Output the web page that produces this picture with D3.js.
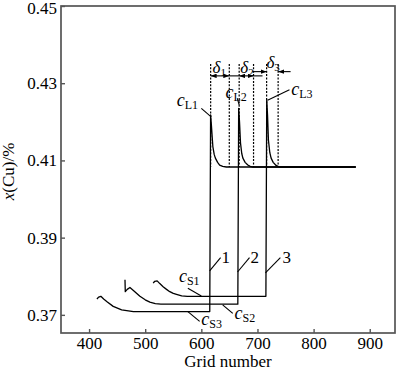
<!DOCTYPE html>
<html lang="en">
<head>
<meta charset="UTF-8">
<title>x(Cu) vs grid number</title>
<script src="https://d3js.org/d3.v7.min.js"></script>
<style>
    body { margin: 0; background: #fff; }
    svg { display: block; }
    text { font-family: "Liberation Serif", "Times New Roman", serif; }
    .axis text { font-size: 17px; fill: #000; }
    .axis line { stroke: #555; stroke-width: 1.4px; }
    .frame { fill: none; stroke: #555; stroke-width: 1.7px; }
    .curve { fill: none; stroke: #000; stroke-width: 1.3px; stroke-linejoin: round; }
    .dotted { stroke: #000; stroke-width: 1.2px; stroke-dasharray: 2, 1.4; }
    .leader, .dim { stroke: #000; stroke-width: 1.1px; fill: none; }
    .lbl { font-size: 17px; fill: #000; }
</style>
</head>
<body>
<svg id="chart"></svg>
<script>
    // axis ticks
    const xTicks = [400, 500, 600, 700, 800, 900];
    const yTicks = [0.37, 0.39, 0.41, 0.43, 0.45];

    // curves [grid number, x(Cu)]
    const curve1 = [[414, 0.3741], [417, 0.3746], [421, 0.3748], [426, 0.3741], [432, 0.3734], [443, 0.3722],
        [458, 0.3713], [479, 0.37085], [615, 0.37085], [616.5, 0.4218], [618, 0.4190], [620.5, 0.4136],
        [623, 0.4115], [625, 0.4106], [629, 0.4095], [632.6, 0.4088], [638, 0.40845], [644.5, 0.4083], [875, 0.4083]];
    const curve2 = [[464, 0.3791], [464.5, 0.3760], [468, 0.3766], [472.8, 0.3771], [480, 0.3762], [490.6, 0.3748],
        [500, 0.3739], [508.3, 0.3733], [518, 0.3729], [528, 0.37277], [665, 0.37277], [666.5, 0.4235],
        [668, 0.4200], [669.8, 0.4145], [672, 0.4118], [674, 0.4106], [678, 0.4095], [682.8, 0.4088],
        [687, 0.40845], [691.7, 0.4083], [875, 0.4083]];
    const curve3 = [[514.2, 0.3782], [517, 0.3787], [521.3, 0.3788], [526, 0.3781], [531.9, 0.3773], [538, 0.3766],
        [543.8, 0.3760], [550, 0.37555], [555.7, 0.3753], [565, 0.3749], [575, 0.3748], [715, 0.3748],
        [716.5, 0.4257], [718, 0.4215], [719.5, 0.4153], [722, 0.4120], [724.3, 0.4106], [728, 0.4095],
        [733.2, 0.4087], [739, 0.4083], [875, 0.4083]];

    // dotted boundary lines (grid number), from top value down to liquid level
    const dottedX = [616.6, 649.8, 667.4, 693, 716.3, 736.8];
    const dottedTop = 0.435, dottedBottom = 0.4083;

    // delta dimension arrows
    const dimDouble = [[616.6, 649.8, 0.4319], [667.4, 693, 0.4319]];
    const dimPlain = [[649.8, 667.4, 0.4319], [693, 709, 0.4319]];
    const dimInward = [[691, 716.3, 0.4330], [759, 736.8, 0.4330]];
    const deltaLabels = [[620, 0.43265, "1"], [669.5, 0.43265, "2"], [716, 0.43395, "3"]];

    // c labels [grid, value, subscript]
    const cLabels = [[556, 0.4240, "L1"], [643, 0.4262, "L2"], [760, 0.4270, "L3"],
        [560, 0.3784, "S1"], [659, 0.3690, "S2"], [600, 0.3674, "S3"]];
    const numLabels = [[636, 0.38346, "1"], [687.6, 0.38346, "2"], [744.4, 0.38346, "3"]];
    const leaders = [
        [[600, 0.4235], [617.5, 0.4213]],
        [[664, 0.4261], [667.5, 0.4243]],
        [[757, 0.4283], [718, 0.4256]],
        [[576, 0.3769], [600, 0.3749]],
        [[638, 0.3726], [656, 0.3704]],
        [[576, 0.37085], [597, 0.3683]],
        [[614.8, 0.3814], [634.3, 0.3848]],
        [[664.5, 0.3811], [685.8, 0.3848]],
        [[714.2, 0.3809], [740.8, 0.3848]]
    ];

    const margin = { top: 6, right: 5, bottom: 37, left: 61 };
    const width = 400 - margin.left - margin.right;
    const height = 370 - margin.top - margin.bottom;

    const root = d3.select("#chart").attr("width", 400).attr("height", 370);
    const svg = root.append("g").attr("transform", `translate(${margin.left},${margin.top})`);

    const xScale = d3.scaleLinear().domain([350, 945]).range([0, width]);
    const yScale = d3.scaleLinear().domain([0.3653, 0.45]).range([height, 0]);

    root.append("defs").append("marker")
        .attr("id", "arrow")
        .attr("viewBox", "0 0 8 6")
        .attr("refX", 8).attr("refY", 3)
        .attr("markerWidth", 6).attr("markerHeight", 4.5)
        .attr("markerUnits", "userSpaceOnUse")
        .attr("orient", "auto-start-reverse")
        .append("path").attr("d", "M0,0L8,3L0,6Z").attr("fill", "#000");

    const xAxis = svg.append("g").attr("class", "axis")
        .attr("transform", `translate(0,${height})`)
        .call(d3.axisBottom(xScale).tickValues(xTicks).tickSize(-4).tickPadding(4).tickFormat(d3.format("d")));
    const yAxis = svg.append("g").attr("class", "axis")
        .call(d3.axisLeft(yScale).tickValues(yTicks).tickSize(-4).tickPadding(4).tickFormat(d3.format(".2f")));
    [xAxis, yAxis].forEach(a => {
        a.select(".domain").remove();
        a.attr("font-family", null).attr("font-size", null);
    });
    yAxis.selectAll(".tick").filter(d => d === 0.45).select("text").attr("dy", "0.42em");

    svg.append("rect").attr("class", "frame")
        .attr("x", 0).attr("y", 0).attr("width", width).attr("height", height);

    const line = d3.line().x(d => xScale(d[0])).y(d => yScale(d[1]));

    svg.selectAll(".curve")
        .data([curve1, curve2, curve3])
        .enter().append("path")
        .attr("class", "curve")
        .attr("d", line);

    svg.selectAll(".dotted")
        .data(dottedX)
        .enter().append("line")
        .attr("class", "dotted")
        .attr("x1", d => xScale(d)).attr("x2", d => xScale(d))
        .attr("y1", yScale(dottedTop)).attr("y2", yScale(dottedBottom));

    svg.selectAll(".dim-double")
        .data(dimDouble)
        .enter().append("line")
        .attr("class", "dim")
        .attr("x1", d => xScale(d[0])).attr("x2", d => xScale(d[1]))
        .attr("y1", d => yScale(d[2])).attr("y2", d => yScale(d[2]))
        .attr("marker-start", "url(#arrow)").attr("marker-end", "url(#arrow)");

    svg.selectAll(".dim-plain")
        .data(dimPlain)
        .enter().append("line")
        .attr("class", "dim")
        .attr("x1", d => xScale(d[0])).attr("x2", d => xScale(d[1]))
        .attr("y1", d => yScale(d[2])).attr("y2", d => yScale(d[2]));

    svg.selectAll(".dim-in")
        .data(dimInward)
        .enter().append("line")
        .attr("class", "dim")
        .attr("x1", d => xScale(d[0])).attr("x2", d => xScale(d[1]))
        .attr("y1", d => yScale(d[2])).attr("y2", d => yScale(d[2]))
        .attr("marker-end", "url(#arrow)");

    const dl = svg.selectAll(".dlbl")
        .data(deltaLabels)
        .enter().append("text")
        .attr("class", "lbl")
        .attr("x", d => xScale(d[0])).attr("y", d => yScale(d[1]));
    dl.append("tspan").attr("font-style", "italic").attr("font-size", 17).text("δ");
    dl.append("tspan").attr("font-size", 11).attr("dy", 3).text(d => d[2]);

    const cl = svg.selectAll(".clbl")
        .data(cLabels)
        .enter().append("text")
        .attr("class", "lbl")
        .attr("x", d => xScale(d[0])).attr("y", d => yScale(d[1]));
    cl.append("tspan").attr("font-style", "italic").attr("font-size", 18).text("c");
    cl.append("tspan").attr("font-size", 12).attr("dy", 3).text(d => d[2]);

    svg.selectAll(".nlbl")
        .data(numLabels)
        .enter().append("text")
        .attr("class", "lbl")
        .attr("x", d => xScale(d[0])).attr("y", d => yScale(d[1]))
        .text(d => d[2]);

    svg.selectAll(".leader")
        .data(leaders)
        .enter().append("path")
        .attr("class", "leader")
        .attr("d", line);

    svg.append("text")
        .attr("class", "lbl")
        .attr("x", width / 2).attr("y", height + 34)
        .attr("text-anchor", "middle")
        .text("Grid number");

    const yl = svg.append("text")
        .attr("class", "lbl")
        .attr("transform", `translate(${-margin.left + 14}, ${height / 2 + 2}) rotate(-90)`)
        .attr("text-anchor", "middle");
    yl.append("tspan").attr("font-style", "italic").text("x");
    yl.append("tspan").text("(Cu)/%");
</script>
</body>
</html>
